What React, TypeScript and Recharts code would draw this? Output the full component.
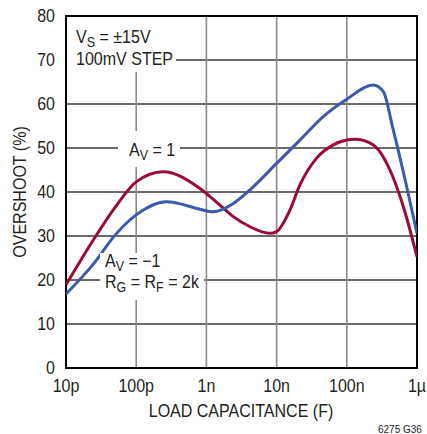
import React from 'react';
import {
  LineChart,
  Line,
  XAxis,
  YAxis,
  CartesianGrid,
  ReferenceArea,
} from 'recharts';

// capacitance in pF, overshoot in %
const avPlusCap = [10, 24.5, 50, 100, 243, 810, 1560, 2420, 4180, 8050, 10000, 15500, 21500, 37200, 64300, 100000, 131000, 239000, 412000, 638000, 1000000];
const avPlusOvershoot = [18.9, 29.1, 36.5, 42.3, 44.6, 40.8, 37, 34.4, 32.1, 30.6, 31.0, 35.9, 41.6, 47.7, 50.7, 51.8, 52.0, 50.7, 45, 36.7, 25.3];

const avMinusCap = [10, 24.5, 50, 100, 272, 810, 1250, 2420, 4180, 10000, 21500, 45800, 100000, 239000, 331000, 459000, 713000, 1000000];
const avMinusOvershoot = [16.8, 23.6, 30.2, 34.8, 37.8, 36.1, 35.5, 37.4, 40.5, 46.5, 51.8, 57.1, 61.1, 64.3, 62.8, 54.1, 41.2, 30.6];

const xTicks = [10, 100, 1000, 10000, 100000, 1000000];
const xTickLabels = ['10p', '100p', '1n', '10n', '100n', '1µ'];
const yTicks = [0, 10, 20, 30, 40, 50, 60, 70, 80];

const avPlusData = avPlusCap.map((c, i) => ({ c, v: avPlusOvershoot[i] }));
const avMinusData = avMinusCap.map((c, i) => ({ c, v: avMinusOvershoot[i] }));

const FONT = '"Liberation Sans", Arial, sans-serif';
const TEXT = '#231f20';
const SQUEEZE = 0.89; // the original lettering is a condensed face

const capLabel = (v: number) => xTickLabels[xTicks.indexOf(v)] ?? '';

function XTick({ x, y, payload }: any) {
  return (
    <text
      transform={`translate(${x},${y}) scale(${SQUEEZE},1)`}
      textAnchor="middle"
      dy="0.71em"
      fontSize={18}
      fontFamily={FONT}
      fill={TEXT}
    >
      {capLabel(payload.value)}
    </text>
  );
}

function YTick({ x, y, payload }: any) {
  return (
    <text
      transform={`translate(${x},${y}) scale(${SQUEEZE},1)`}
      textAnchor="end"
      dy="0.355em"
      fontSize={18}
      fontFamily={FONT}
      fill={TEXT}
    >
      {payload.value}
    </text>
  );
}

const textStyle: React.CSSProperties = {
  position: 'absolute',
  fontFamily: FONT,
  fontSize: 18,
  color: TEXT,
  whiteSpace: 'nowrap',
  transform: `scaleX(${SQUEEZE})`,
  transformOrigin: 'left top',
};
const subStyle: React.CSSProperties = { fontSize: 14, verticalAlign: -4, lineHeight: 0 };

function WhiteBox({ left, top, width, height }: { left: number; top: number; width: number; height: number }) {
  return <div style={{ position: 'absolute', left, top, width, height, background: '#fff' }} />;
}

export default function App() {
  return (
    <div style={{ position: 'absolute', left: 0, top: 0, width: 427, height: 434, background: '#fff' }}>
      <LineChart
        width={427}
        height={434}
        margin={{ top: 16, right: 10, left: 0, bottom: 0 }}
      >
        <CartesianGrid horizontal vertical={false} stroke="#3a3a3a" strokeWidth={1.3} />
        <CartesianGrid horizontal={false} vertical stroke="#8a8a8a" strokeWidth={1.6} />
        <XAxis
          dataKey="c"
          type="number"
          scale="log"
          domain={[10, 1000000]}
          ticks={xTicks}
          interval={0}
          tickFormatter={capLabel}
          allowDataOverflow
          height={66}
          tickLine={false}
          tickSize={6}
          tickMargin={5}
          axisLine={false}
          tick={<XTick />}
        />
        <YAxis
          type="number"
          domain={[0, 80]}
          ticks={yTicks}
          interval={0}
          width={66}
          tickLine={false}
          tickSize={6}
          tickMargin={5}
          axisLine={false}
          tick={<YTick />}
        />
        <ReferenceArea x1={10} x2={1000000} y1={0} y2={80} fill="none" stroke="#000" strokeWidth={2} />
        <Line
          data={avPlusData}
          dataKey="v"
          type="monotone"
          stroke="#990a36"
          strokeWidth={3}
          dot={false}
          isAnimationActive={false}
        />
        <Line
          data={avMinusData}
          dataKey="v"
          type="monotone"
          stroke="#3a5ba8"
          strokeWidth={3}
          dot={false}
          isAnimationActive={false}
        />
      </LineChart>

      {/* axis titles */}
      <div
        style={{
          position: 'absolute', left: 241, top: 401, fontFamily: FONT, fontSize: 18, lineHeight: '21px',
          color: TEXT, whiteSpace: 'nowrap', transform: `translateX(-50%) scaleX(${SQUEEZE})`,
        }}
      >
        LOAD CAPACITANCE (F)
      </div>
      <div
        style={{
          position: 'absolute', left: 20, top: 192, fontFamily: FONT, fontSize: 18, lineHeight: '21px',
          color: TEXT, whiteSpace: 'nowrap', transform: `translate(-50%, -50%) rotate(-90deg) scaleX(${SQUEEZE})`,
        }}
      >
        OVERSHOOT (%)
      </div>

      {/* annotations */}
      <WhiteBox left={67} top={17} width={109} height={55} />
      <div style={{ ...textStyle, left: 76, top: 26, lineHeight: '22px' }}>
        <div>V<sub style={subStyle}>S</sub> = ±15V</div>
        <div>100mV STEP</div>
      </div>

      <WhiteBox left={118} top={131} width={62} height={36} />
      <div style={{ ...textStyle, left: 129, top: 140, lineHeight: '21px' }}>
        A<sub style={subStyle}>V</sub> = 1
      </div>

      <WhiteBox left={100} top={253} width={104} height={47} />
      <div style={{ ...textStyle, left: 105, top: 251, lineHeight: '21px' }}>
        <div>A<sub style={subStyle}>V</sub> = −1</div>
        <div>R<sub style={subStyle}>G</sub> = R<sub style={subStyle}>F</sub> = 2k</div>
      </div>

      <div style={{ position: 'absolute', left: 378, top: 424, fontFamily: FONT, fontSize: 10, color: TEXT }}>
        6275 G36
      </div>
    </div>
  );
}
